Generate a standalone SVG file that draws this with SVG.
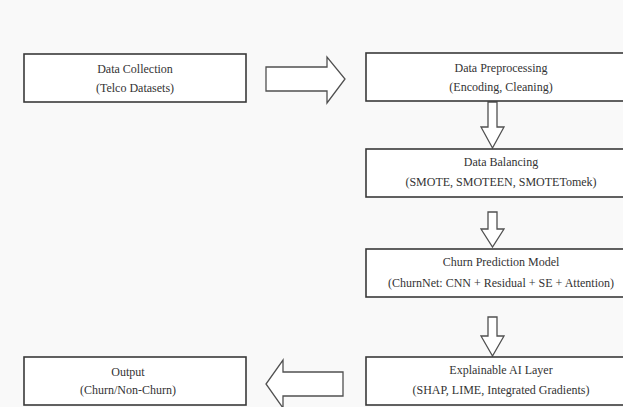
<svg xmlns="http://www.w3.org/2000/svg" width="623" height="407" viewBox="0 0 623 407">
<style>
.box{fill:#ffffff;stroke:#3a3a3a;stroke-width:1.6}
.arr{fill:#ffffff;stroke:#505050;stroke-width:1.3;stroke-linejoin:miter}
.t{font-family:"Liberation Serif","Times New Roman",serif;font-size:12px;fill:#333;text-anchor:middle}
</style>
<rect x="0" y="0" width="623" height="407" fill="#f9f9f9"/>
<g id="connectors">
<polygon class="arr" points="266,67 327,67 327,57 345,79 327,103 327,91 266,91"/>
<polygon class="arr" points="488,102 497,102 497,127 504,127 492.5,148 481,127 488,127"/>
<polygon class="arr" points="488,212 497,212 497,229 504,229 492.5,247 481,229 488,229"/>
<polygon class="arr" points="488,317 497,317 497,336 504,336 492.5,356 481,336 488,336"/>
<polygon class="arr" points="343,372 283,372 283,360 266,384 283,408 283,396 343,396"/>
</g>
<g id="n1">
<rect class="box" x="24" y="54" width="222" height="48"/>
<text class="t" x="135" y="73">Data Collection</text>
<text class="t" x="135" y="92">(Telco Datasets)</text>
</g>
<g id="n2">
<rect class="box" x="366" y="53" width="270" height="48"/>
<text class="t" x="501" y="72">Data Preprocessing</text>
<text class="t" x="501" y="91">(Encoding, Cleaning)</text>
</g>
<g id="n3">
<rect class="box" x="366" y="149" width="270" height="48"/>
<text class="t" x="501" y="166">Data Balancing</text>
<text class="t" x="501" y="186">(SMOTE, SMOTEEN, SMOTETomek)</text>
</g>
<g id="n4">
<rect class="box" x="366" y="249" width="270" height="48"/>
<text class="t" x="501" y="266">Churn Prediction Model</text>
<text class="t" x="501" y="287">(ChurnNet: CNN + Residual + SE + Attention)</text>
</g>
<g id="n5">
<rect class="box" x="366" y="357" width="270" height="48"/>
<text class="t" x="501" y="374">Explainable AI Layer</text>
<text class="t" x="501" y="394">(SHAP, LIME, Integrated Gradients)</text>
</g>
<g id="n6">
<rect class="box" x="24" y="357" width="222" height="48"/>
<text class="t" x="128" y="376">Output</text>
<text class="t" x="128" y="394">(Churn/Non-Churn)</text>
</g>
</svg>
